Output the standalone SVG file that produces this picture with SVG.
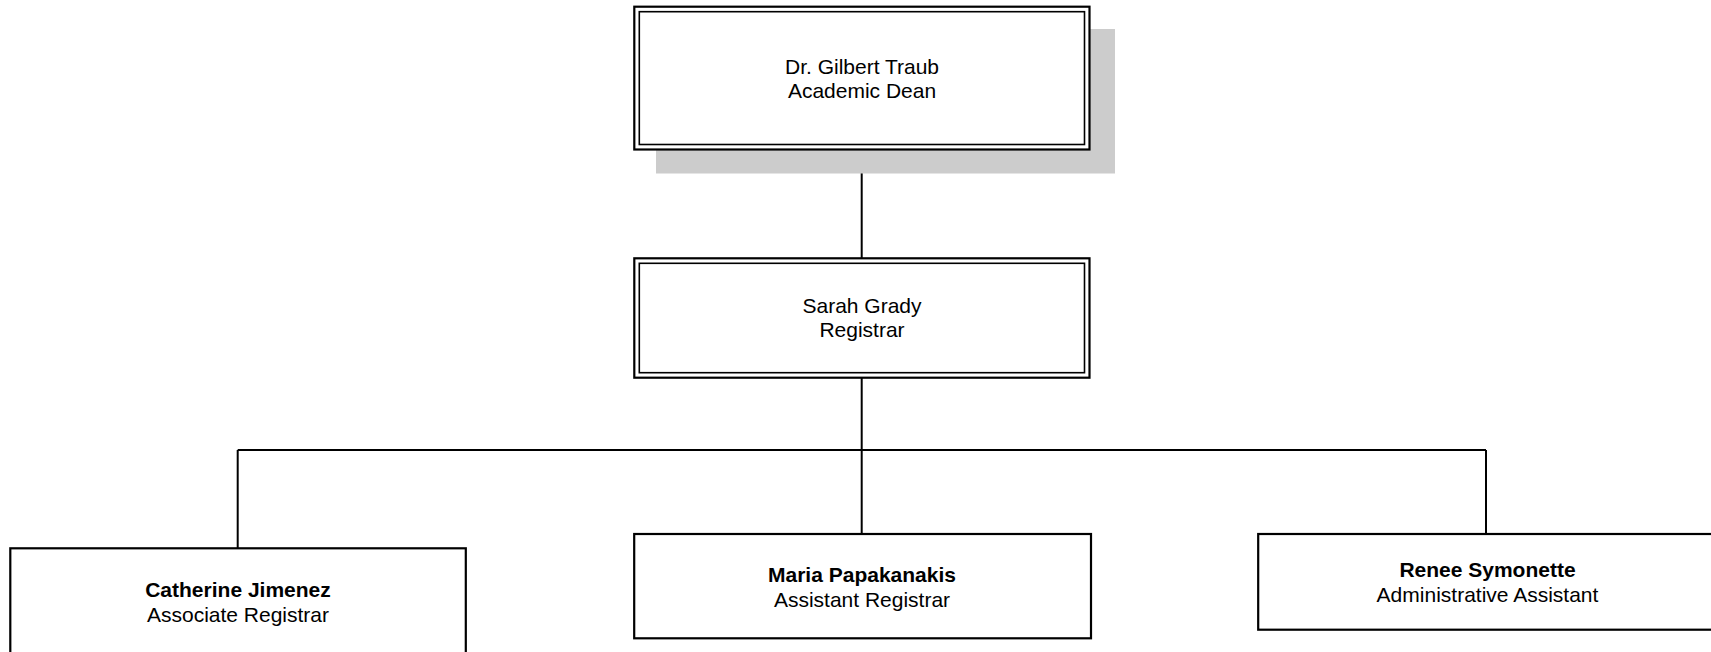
<svg xmlns="http://www.w3.org/2000/svg" width="1711" height="652" viewBox="0 0 1711 652">
  <style>
    .box { fill: #ffffff; stroke: #000000; stroke-width: 2.2; }
    .inner { fill: none; stroke: #000000; stroke-width: 1.6; }
    .shadow { fill: #cccccc; stroke: none; }
    .conn { fill: none; stroke: #000000; stroke-width: 2; }
    .t { font-family: "Liberation Sans", Arial, sans-serif; font-size: 21px; fill: #000000; text-anchor: middle; }
    .b { font-weight: bold; }
  </style>
  <rect x="0" y="0" width="1711" height="652" fill="#ffffff"/>
  <g id="connectors">
    <path class="conn" d="M861.7,150 V258"/>
    <path class="conn" d="M861.7,378 V450"/>
    <path class="conn" d="M237.7,450 H1486"/>
    <path class="conn" d="M237.7,450 V548.3"/>
    <path class="conn" d="M861.7,450 V534"/>
    <path class="conn" d="M1486,450 V534"/>
  </g>
  <g id="node-dean">
    <rect class="shadow" x="656" y="29" width="459" height="144.5"/>
    <rect class="box" x="634.3" y="6.7" width="455.2" height="142.8"/>
    <rect class="inner" x="639.3" y="11.7" width="445.2" height="132.8"/>
    <text class="t" x="862" y="74.3">Dr. Gilbert Traub</text>
    <text class="t" x="862" y="98.3">Academic Dean</text>
  </g>
  <g id="node-registrar">
    <rect class="box" x="634.3" y="258.3" width="455.2" height="119.4"/>
    <rect class="inner" x="639.3" y="263.3" width="445.2" height="109.4"/>
    <text class="t" x="862" y="313.3">Sarah Grady</text>
    <text class="t" x="862" y="337.3">Registrar</text>
  </g>
  <g id="node-associate">
    <rect class="box" x="10.3" y="548.3" width="455.5" height="110"/>
    <text class="t b" x="238" y="596.7">Catherine Jimenez</text>
    <text class="t" x="238" y="621.7">Associate Registrar</text>
  </g>
  <g id="node-assistant">
    <rect class="box" x="634.2" y="534" width="456.8" height="104.3"/>
    <text class="t b" x="862" y="581.7">Maria Papakanakis</text>
    <text class="t" x="862" y="607">Assistant Registrar</text>
  </g>
  <g id="node-admin">
    <rect class="box" x="1258.2" y="534" width="460" height="95.7"/>
    <text class="t b" x="1487.5" y="576.7">Renee Symonette</text>
    <text class="t" x="1487.5" y="601.7">Administrative Assistant</text>
  </g>
</svg>
